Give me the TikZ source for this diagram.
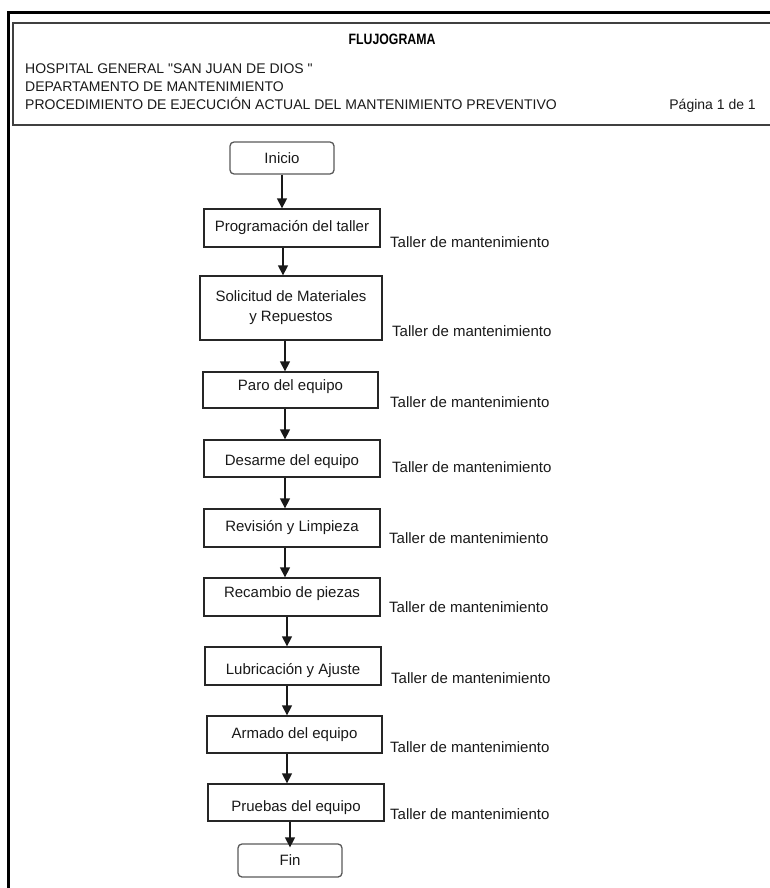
\documentclass[tikz,border=0pt]{standalone}
\usepackage{fontspec}
\setmainfont{Liberation Sans}[Ligatures=TeXOff]
\usetikzlibrary{arrows.meta}
% raise a text line without changing the height the node sees
\newcommand\txtlift[2]{\raisebox{#1}[\height][\depth]{#2}}
\begin{document}
\begin{tikzpicture}[x=1pt,y=-1pt,
  hdr/.style={anchor=base west, inner sep=0pt, text=black!90,
    font=\fontsize{14}{16}\selectfont},
  stepbox/.style={draw=black!85, line width=1.3pt, inner sep=0pt,
    minimum width=176pt, minimum height=38pt, text=black!90,
    font=\fontsize{15}{20}\selectfont},
  termbox/.style={stepbox, draw=black!65, rounded corners=4pt,
    minimum width=104pt, minimum height=32pt},
  resp/.style={anchor=west, inner sep=0pt, text=black!90,
    font=\fontsize{15}{18}\selectfont},
  flow/.style={line width=1.3pt, draw=black!90,
    -{Triangle[length=10pt,width=10pt]}}]
\useasboundingbox (0,0) rectangle (770,888);

% page frame
\draw[line width=3pt] (8,888) -- (8,13) -- (770,13);
% header box
\draw[line width=1.3pt, black!75] (770,23) -- (13,23) -- (13,125) -- (770,125);

\node[anchor=base, inner sep=0pt, font=\fontsize{15}{16}\selectfont\bfseries]
  (title) at (392,45) {\scalebox{0.82}[1]{FLUJOGRAMA}};
\node[hdr] (hosp) at (25,74) {HOSPITAL GENERAL "SAN JUAN DE DIOS "};
\node[hdr] (dept) at (25,92) {DEPARTAMENTO DE MANTENIMIENTO};
\node[hdr] (proc) at (25,110) {PROCEDIMIENTO DE EJECUCIÓN ACTUAL DEL MANTENIMIENTO PREVENTIVO};
\node[hdr, anchor=base east] (page) at (756,110) {Página 1 de 1};

% process steps
\node[termbox] (inicio) at (282,158) {Inicio};
\node[stepbox] (prog) at (292,228) {Programación del taller};
\node[stepbox, minimum width=182pt, minimum height=64pt, align=center]
  (sol) at (291,308) {Solicitud de Materiales\\y Repuestos};
\node[stepbox, minimum width=175pt, minimum height=36pt]
  (paro) at (290.5,390) {\txtlift{3pt}{Paro del equipo}};
\node[stepbox, minimum height=37pt]
  (desarme) at (292,458.5) {\txtlift{-3.5pt}{Desarme del equipo}};
\node[stepbox] (revision) at (292,528) {Revisión y Limpieza};
\node[stepbox] (recambio) at (292,597) {\txtlift{3pt}{Recambio de piezas}};
\node[stepbox] (lubric) at (293,666) {\txtlift{-5pt}{Lubricación y Ajuste}};
\node[stepbox, minimum width=175pt, minimum height=37pt]
  (armado) at (294.5,734.5) {Armado del equipo};
\node[stepbox, minimum height=37pt]
  (pruebas) at (296,802.5) {\txtlift{-5.5pt}{Pruebas del equipo}};
\node[termbox, minimum height=33pt] (fin) at (290,860.5) {Fin};

% responsible unit beside each step
\node[resp] (rprog)     at (390,242) {Taller de mantenimiento};
\node[resp] (rsol)      at (392,331) {Taller de mantenimiento};
\node[resp] (rparo)     at (390,402) {Taller de mantenimiento};
\node[resp] (rdesarme)  at (392,467) {Taller de mantenimiento};
\node[resp] (rrevision) at (389,538) {Taller de mantenimiento};
\node[resp] (rrecambio) at (389,607) {Taller de mantenimiento};
\node[resp] (rlubric)   at (391,678) {Taller de mantenimiento};
\node[resp] (rarmado)   at (390,747) {Taller de mantenimiento};
\node[resp] (rpruebas)  at (390,814) {Taller de mantenimiento};

% flow
\draw[flow] (inicio.south -| 282,0) -- (prog.north -| 282,0);
\draw[flow] (prog.south -| 283,0) -- (sol.north -| 283,0);
\draw[flow] (sol.south -| 285,0) -- (paro.north -| 285,0);
\draw[flow] (paro.south -| 285,0) -- (desarme.north -| 285,0);
\draw[flow] (desarme.south -| 285,0) -- (revision.north -| 285,0);
\draw[flow] (revision.south -| 285,0) -- (recambio.north -| 285,0);
\draw[flow] (recambio.south -| 287,0) -- (lubric.north -| 287,0);
\draw[flow] (lubric.south -| 287,0) -- (armado.north -| 287,0);
\draw[flow] (armado.south -| 287,0) -- (pruebas.north -| 287,0);
\draw[flow, shorten >=-4pt] (pruebas.south -| 290,0) -- (fin.north -| 290,0);
\end{tikzpicture}
\end{document}
